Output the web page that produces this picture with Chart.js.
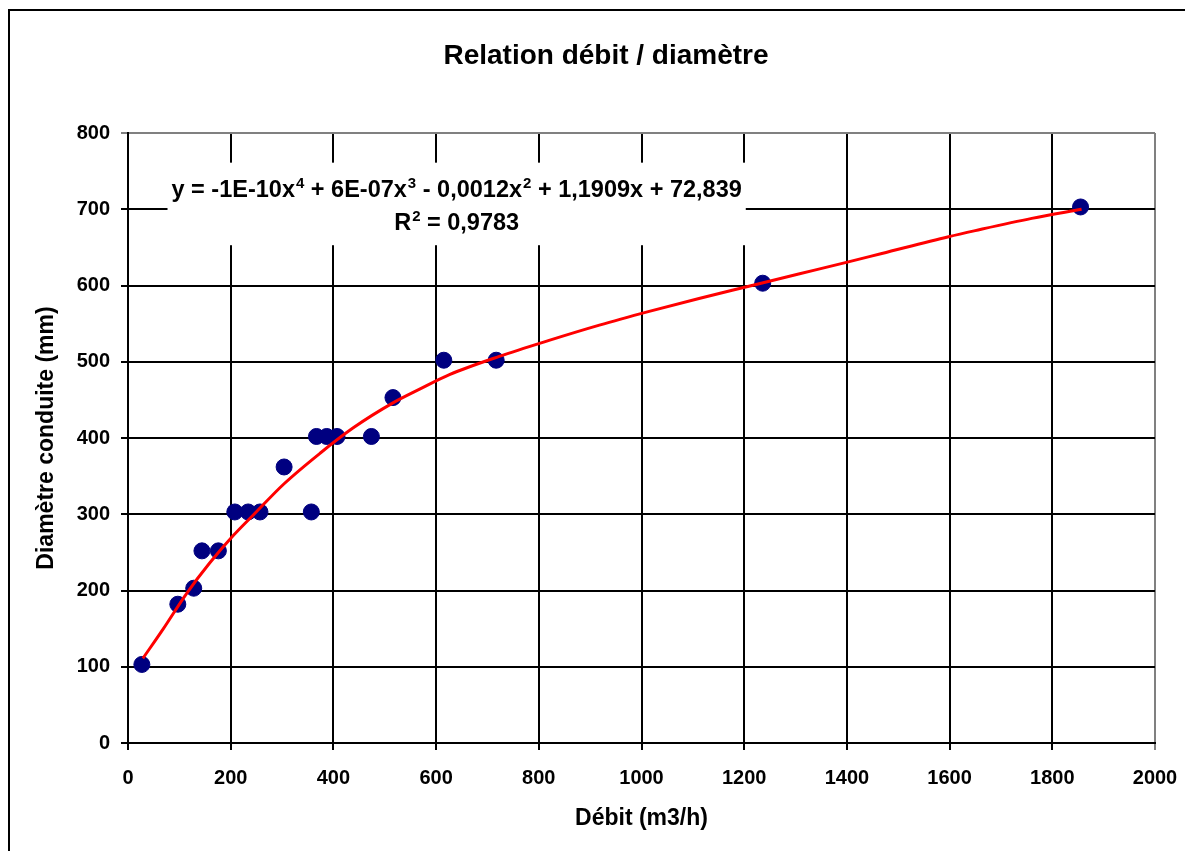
<!DOCTYPE html>
<html lang="fr">
<head>
  <meta charset="UTF-8">
  <title>Relation débit / diamètre</title>
  <style>
    html, body { margin: 0; padding: 0; background: #fff; }
  </style>
</head>
<body>
<div>
  <canvas id="chart" width="1185" height="851"></canvas>
</div>

<script src="https://cdn.jsdelivr.net/npm/chart.js"></script>

<script>
  // measured points (débit m3/h, diamètre mm)
  const debit = [27, 97, 128, 144, 176, 208, 234, 257, 304, 357, 367, 387, 407, 474, 516, 615, 717, 1236, 1855];
  const diametre = [103, 182, 203, 252, 252, 303, 303, 303, 362, 303, 402, 402, 402, 402, 453, 502, 502, 603, 703];

  // polynomial trend line
  const trendX = [29, 69, 114, 159, 205, 244, 304, 374, 438, 516, 568, 626, 723, 820, 918, 1015, 1112, 1209, 1306, 1397, 1468, 1598, 1650, 1760, 1857];
  const trendY = [111, 150, 196, 236, 272, 299, 340, 380, 413, 446, 464, 483, 507, 528, 548, 566, 583, 599, 615, 630, 642, 664, 672, 688, 700];

  const xTicks = [0, 200, 400, 600, 800, 1000, 1200, 1400, 1600, 1800, 2000];
  const yTicks = [0, 100, 200, 300, 400, 500, 600, 700, 800];

  const chartTitle = 'Relation débit / diamètre';
  const xTitle = 'Débit (m3/h)';
  const yTitle = 'Diamètre conduite (mm)';
  // text + superscript pairs
  const equation = [['y = -1E-10x', '4'], [' + 6E-07x', '3'], [' - 0,0012x', '2'], [' + 1,1909x + 72,839', '']];
  const r2 = [['R', '2'], [' = 0,9783', '']];

  const FONT = '"Liberation Sans", Arial, sans-serif';
  Chart.defaults.font.family = FONT;
  Chart.defaults.color = '#000';

  const frame = {
    id: 'frame',
    beforeDraw(chart) {
      const c = chart.ctx;
      c.save();
      c.fillStyle = '#fff';
      c.fillRect(0, 0, chart.width, chart.height);
      c.strokeStyle = '#000';
      c.lineWidth = 2;
      c.beginPath();
      c.moveTo(9, chart.height + 2);
      c.lineTo(9, 10);
      c.lineTo(chart.width + 2, 10);
      c.stroke();
      c.fillStyle = '#000';
      c.font = `bold 28px ${FONT}`;
      c.textAlign = 'center';
      c.textBaseline = 'middle';
      c.fillText(chartTitle, 606, 56);
      c.restore();
    }
  };

  const trendLabel = {
    id: 'trendLabel',
    beforeDatasetsDraw(chart) {
      const {ctx, scales: {x, y}} = chart;
      const main = `bold 23.5px ${FONT}`;
      const sup = `bold 15px ${FONT}`;
      const cx = x.getPixelForValue(640);
      const rows = [[equation, y.getPixelForValue(727)], [r2, y.getPixelForValue(683)]];

      ctx.save();
      const widthOf = (parts) => parts.reduce((w, [t, s]) => {
        ctx.font = main; w += ctx.measureText(t).width;
        ctx.font = sup; w += s ? ctx.measureText(s).width + 1 : 0;
        return w;
      }, 0);
      const w = Math.max(...rows.map(r => widthOf(r[0])));
      ctx.fillStyle = '#fff';
      ctx.fillRect(cx - w / 2 - 4, rows[0][1] - 26, w + 8, rows[1][1] - rows[0][1] + 49);

      ctx.fillStyle = '#000';
      ctx.textBaseline = 'alphabetic';
      ctx.textAlign = 'left';
      rows.forEach(([parts, cy]) => {
        let px = cx - widthOf(parts) / 2;
        const base = cy + 8;
        parts.forEach(([t, s]) => {
          ctx.font = main;
          ctx.fillText(t, px, base);
          px += ctx.measureText(t).width;
          if (s) {
            ctx.font = sup;
            ctx.fillText(s, px + 1, base - 9);
            px += ctx.measureText(s).width + 1;
          }
        });
      });
      ctx.restore();
    }
  };

  new Chart(document.getElementById('chart'), {
    type: 'scatter',
    data: {
      datasets: [
        {
          label: 'Tendance',
          data: trendX.map((v, i) => ({x: v, y: trendY[i]})),
          showLine: true,
          borderColor: '#ff0000',
          borderWidth: 3,
          pointRadius: 0,
          cubicInterpolationMode: 'monotone',
          order: 0
        },
        {
          label: 'Mesures',
          data: debit.map((v, i) => ({x: v, y: diametre[i]})),
          backgroundColor: '#000080',
          borderColor: '#000080',
          borderWidth: 1,
          pointRadius: 8,
          order: 1
        }
      ]
    },
    options: {
      responsive: false,
      animation: false,
      layout: {
        padding: {left: 10, right: 30, top: 133, bottom: 0}
      },
      scales: {
        x: {
          type: 'linear',
          min: 0,
          max: 2000,
          afterBuildTicks: s => { s.ticks = xTicks.map(v => ({value: v})); },
          afterFit: s => { s.height = 108; s.paddingLeft = 0; s.paddingRight = 0; },
          grid: {
            color: c => c.tick && c.tick.value === 2000 ? '#808080' : '#000',
            lineWidth: 2,
            tickLength: 7
          },
          border: {color: '#000', width: 2},
          ticks: {font: {size: 20, weight: 'bold'}, padding: 16, maxRotation: 0, callback: v => String(v)},
          title: {display: true, text: xTitle, font: {size: 23, weight: 'bold'}, padding: {bottom: 19}}
        },
        y: {
          type: 'linear',
          min: 0,
          max: 800,
          afterBuildTicks: s => { s.ticks = yTicks.map(v => ({value: v})); },
          afterFit: s => { s.width = 118; },
          grid: {
            color: c => c.tick && c.tick.value === 800 ? '#808080' : '#000',
            lineWidth: 2,
            tickLength: 7
          },
          border: {color: '#000', width: 2},
          ticks: {font: {size: 20, weight: 'bold'}, padding: 11, callback: v => String(v)},
          title: {display: true, text: yTitle, font: {size: 23, weight: 'bold'}, padding: {top: 23}}
        }
      },
      plugins: {
        legend: {display: false},
        tooltip: {enabled: false}
      }
    },
    plugins: [frame, trendLabel]
  });
</script>
</body>
</html>
